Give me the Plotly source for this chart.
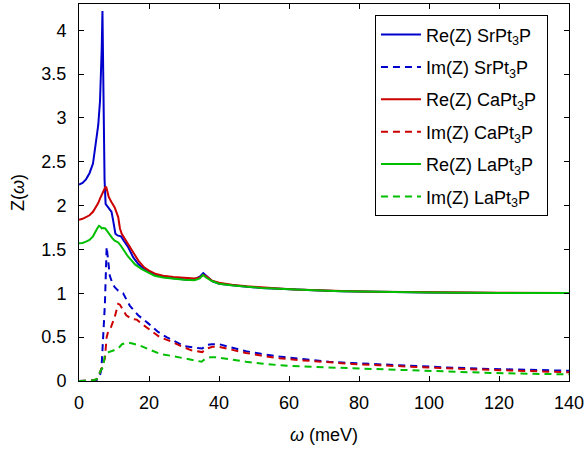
import plotly.graph_objects as go

# ---------------- data ----------------
re_sr_w = [0, 1, 2, 3, 4, 5, 5.5, 6, 6.3, 6.5, 6.7, 6.9, 7.1, 7.3, 7.6, 8.1, 8.8, 9.3, 9.8, 10.4, 11, 12, 12.8, 14, 15.5, 17, 18.5, 20, 22, 25, 28, 31, 33, 34.5, 35.5, 36.5, 38, 40, 44, 48, 52, 57, 62, 67, 75, 85, 100, 120, 140]
re_sr_z = [2.24, 2.26, 2.30, 2.37, 2.48, 2.74, 2.92, 3.19, 3.5, 3.8, 4.22, 3.6, 2.9, 2.3, 2.02, 1.99, 1.96, 1.93, 1.82, 1.68, 1.66, 1.65, 1.60, 1.53, 1.41, 1.33, 1.28, 1.25, 1.21, 1.18, 1.165, 1.155, 1.16, 1.19, 1.23, 1.19, 1.14, 1.11, 1.09, 1.075, 1.062, 1.052, 1.042, 1.034, 1.025, 1.016, 1.01, 1.005, 1.003]

re_ca_w = [0, 1, 2, 3, 4, 5, 5.5, 6, 6.5, 7, 7.5, 7.8, 8.1, 8.5, 9.3, 10.2, 11.2, 11.7, 12.2, 13.1, 14, 15, 16, 17, 18.5, 20, 22, 24, 27, 30, 33, 34.5, 35.5, 36.5, 38, 40, 44, 48, 52, 57, 62, 67, 75, 85, 100, 120, 140]
re_ca_z = [1.84, 1.85, 1.87, 1.89, 1.93, 1.99, 2.03, 2.08, 2.13, 2.18, 2.21, 2.21, 2.15, 2.10, 2.04, 1.98, 1.87, 1.74, 1.68, 1.62, 1.56, 1.49, 1.43, 1.37, 1.30, 1.26, 1.22, 1.20, 1.185, 1.175, 1.17, 1.18, 1.21, 1.19, 1.145, 1.12, 1.095, 1.08, 1.066, 1.055, 1.044, 1.036, 1.027, 1.018, 1.011, 1.006, 1.004]

re_la_w = [0, 1, 2, 3, 4, 4.6, 5.2, 5.7, 6.1, 6.5, 7.0, 7.5, 8.0, 8.8, 9.5, 10.2, 11.2, 12, 13.1, 14, 15, 16, 17.8, 19.5, 21.6, 24, 27.3, 30, 33, 34.5, 35.4, 36.3, 38, 40, 44, 48, 52, 57, 62, 67, 75, 85, 100, 120, 140]
re_la_z = [1.57, 1.575, 1.59, 1.61, 1.65, 1.70, 1.74, 1.77, 1.76, 1.74, 1.745, 1.74, 1.71, 1.67, 1.63, 1.60, 1.58, 1.54, 1.47, 1.42, 1.375, 1.33, 1.28, 1.24, 1.20, 1.18, 1.165, 1.155, 1.15, 1.17, 1.21, 1.18, 1.14, 1.11, 1.09, 1.075, 1.062, 1.052, 1.042, 1.034, 1.025, 1.016, 1.01, 1.005, 1.003]

im_sr_w = [0, 2, 4, 5, 5.6, 6.0, 6.4, 6.9, 7.4, 7.9, 8.4, 8.8, 9.5, 10.2, 11.2, 12.6, 14.5, 16.9, 19.7, 22.6, 25, 27.8, 30, 33, 35.2, 36.5, 38, 40, 43, 47.7, 52, 57.2, 64, 71.4, 78, 85.6, 95, 105, 115, 125, 140]
im_sr_z = [0, 0, 0.005, 0.01, 0.03, 0.07, 0.13, 0.50, 0.88, 1.53, 1.32, 1.2, 1.12, 1.07, 1.03, 1.00, 0.86, 0.75, 0.66, 0.56, 0.50, 0.44, 0.40, 0.38, 0.37, 0.41, 0.42, 0.42, 0.39, 0.34, 0.31, 0.28, 0.25, 0.22, 0.205, 0.19, 0.17, 0.155, 0.14, 0.13, 0.117]

im_ca_w = [0, 2, 4, 5, 5.5, 6.5, 7.4, 7.9, 8.3, 9.2, 10.2, 11.2, 11.7, 12.6, 13.5, 15, 16.5, 18, 20.7, 23.1, 26.4, 29, 32.1, 35.2, 36.5, 38.2, 40, 43, 47.7, 52, 57.2, 64, 71.4, 78, 85.6, 95, 105, 115, 125, 140]
im_ca_z = [0, 0, 0.005, 0.02, 0.05, 0.15, 0.26, 0.50, 0.56, 0.62, 0.73, 0.88, 0.87, 0.81, 0.75, 0.71, 0.70, 0.65, 0.57, 0.50, 0.45, 0.40, 0.35, 0.33, 0.37, 0.39, 0.39, 0.36, 0.32, 0.29, 0.26, 0.235, 0.21, 0.195, 0.18, 0.16, 0.145, 0.13, 0.117, 0.10]

im_la_w = [0, 2, 4, 5, 5.5, 6.2, 6.9, 7.4, 8.5, 10, 11.2, 12.3, 13.6, 15, 17, 20.7, 23.1, 27.3, 31, 35, 36.3, 37.5, 39.2, 43, 47.7, 52, 57.2, 64, 71.4, 78, 85.6, 95, 105, 115, 125, 140]
im_la_z = [0, 0, 0.005, 0.02, 0.05, 0.12, 0.16, 0.30, 0.33, 0.35, 0.37, 0.42, 0.435, 0.43, 0.41, 0.35, 0.31, 0.28, 0.25, 0.22, 0.26, 0.27, 0.27, 0.245, 0.22, 0.20, 0.18, 0.165, 0.155, 0.14, 0.13, 0.115, 0.105, 0.095, 0.085, 0.076]

x_ticks = [0, 20, 40, 60, 80, 100, 120, 140]
y_ticks = [0, 0.5, 1, 1.5, 2, 2.5, 3, 3.5, 4]
y_tick_text = ["0", "0.5", "1", "1.5", "2", "2.5", "3", "3.5", "4"]

BLUE = "rgb(0,0,204)"
RED = "rgb(204,0,0)"
GREEN = "rgb(0,190,0)"
DASH = "7px,5px"

series = [
    (re_sr_w, re_sr_z, "Re(Z) SrPt<sub>3</sub>P&nbsp;&nbsp;", BLUE, "solid"),
    (im_sr_w, im_sr_z, "Im(Z) SrPt<sub>3</sub>P", BLUE, DASH),
    (re_ca_w, re_ca_z, "Re(Z) CaPt<sub>3</sub>P", RED, "solid"),
    (im_ca_w, im_ca_z, "Im(Z) CaPt<sub>3</sub>P", RED, DASH),
    (re_la_w, re_la_z, "Re(Z) LaPt<sub>3</sub>P", GREEN, "solid"),
    (im_la_w, im_la_z, "Im(Z) LaPt<sub>3</sub>P", GREEN, DASH),
]

fig = go.Figure()
for i, (w, z, name, col, dash) in enumerate(series):
    fig.add_trace(go.Scatter(x=w, y=z, mode="lines", name=name, legendgroup=f"g{i}",
                             line=dict(color=col, width=2, dash=dash)))

FONT = "Liberation Sans, Arial, sans-serif"
fig.update_layout(
    width=587, height=450,
    margin=dict(l=79, r=16, t=3, b=69),
    paper_bgcolor="white", plot_bgcolor="white",
    font=dict(family=FONT, size=18, color="black"),
    showlegend=True,
    legend=dict(x=0.604, y=0.97, xanchor="left", yanchor="top",
                bgcolor="white", bordercolor="black", borderwidth=1,
                font=dict(family=FONT, size=18, color="black"),
                itemwidth=40, tracegroupgap=6),
    xaxis=dict(range=[0, 140], tickvals=x_ticks, ticks="inside", ticklen=5,
               tickcolor="black", showline=True, linecolor="black", linewidth=1,
               mirror="allticks", showgrid=False, zeroline=False,
               tickfont=dict(size=18), ticklabelstandoff=5,
               title=dict(text="<i>ω</i> (meV)", font=dict(size=18), standoff=16)),
    yaxis=dict(range=[0, 4.3], tickvals=y_ticks, ticktext=y_tick_text,
               ticks="inside", ticklen=5, tickcolor="black", showline=True,
               linecolor="black", linewidth=1, mirror="allticks", showgrid=False,
               zeroline=False, tickfont=dict(size=18), ticklabelstandoff=8,
               title=dict(text="Z(<i>ω</i>)", font=dict(size=18), standoff=12)),
)

fig.write_html("out.html", config={"displayModeBar": False},
               post_script="document.body.style.margin='0px';")
